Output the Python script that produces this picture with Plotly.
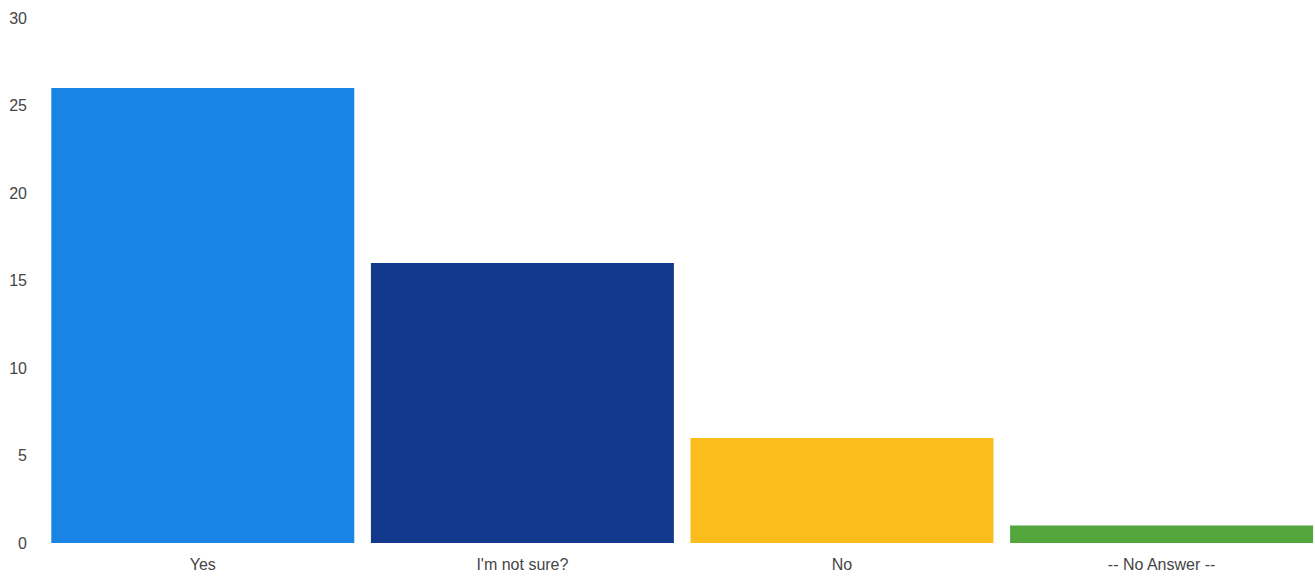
import plotly.graph_objects as go

# Survey responses
categories = ["Yes", "I'm not sure?", "No", "-- No Answer --"]
counts = [26, 16, 6, 1]
bar_colors = ["#1a84e4", "#12398c", "#fbbd1c", "#52a63c"]

y_ticks = [0, 5, 10, 15, 20, 25, 30]

fig = go.Figure(
    go.Bar(
        x=categories,
        y=counts,
        marker=dict(color=bar_colors, line=dict(width=0)),
        hoverinfo="x+y",
    )
)

fig.update_layout(
    width=1315,
    height=576,
    margin=dict(l=43, r=0, t=18, b=33),
    paper_bgcolor="white",
    plot_bgcolor="white",
    bargap=0.052,
    showlegend=False,
    font=dict(family="Liberation Sans, Arial, sans-serif", size=16, color="#444444"),
)

fig.update_xaxes(
    type="category",
    range=[-0.5, 3.48],
    showgrid=False,
    showline=False,
    zeroline=False,
    ticks="",
    ticklabelstandoff=10,
    tickfont=dict(size=16, color="#454545"),
)

fig.update_yaxes(
    range=[0, 30],
    tickvals=y_ticks,
    showgrid=False,
    showline=False,
    zeroline=False,
    ticks="",
    ticklabelstandoff=15,
    tickfont=dict(size=16, color="#454545"),
)

fig.write_html("out.html")
